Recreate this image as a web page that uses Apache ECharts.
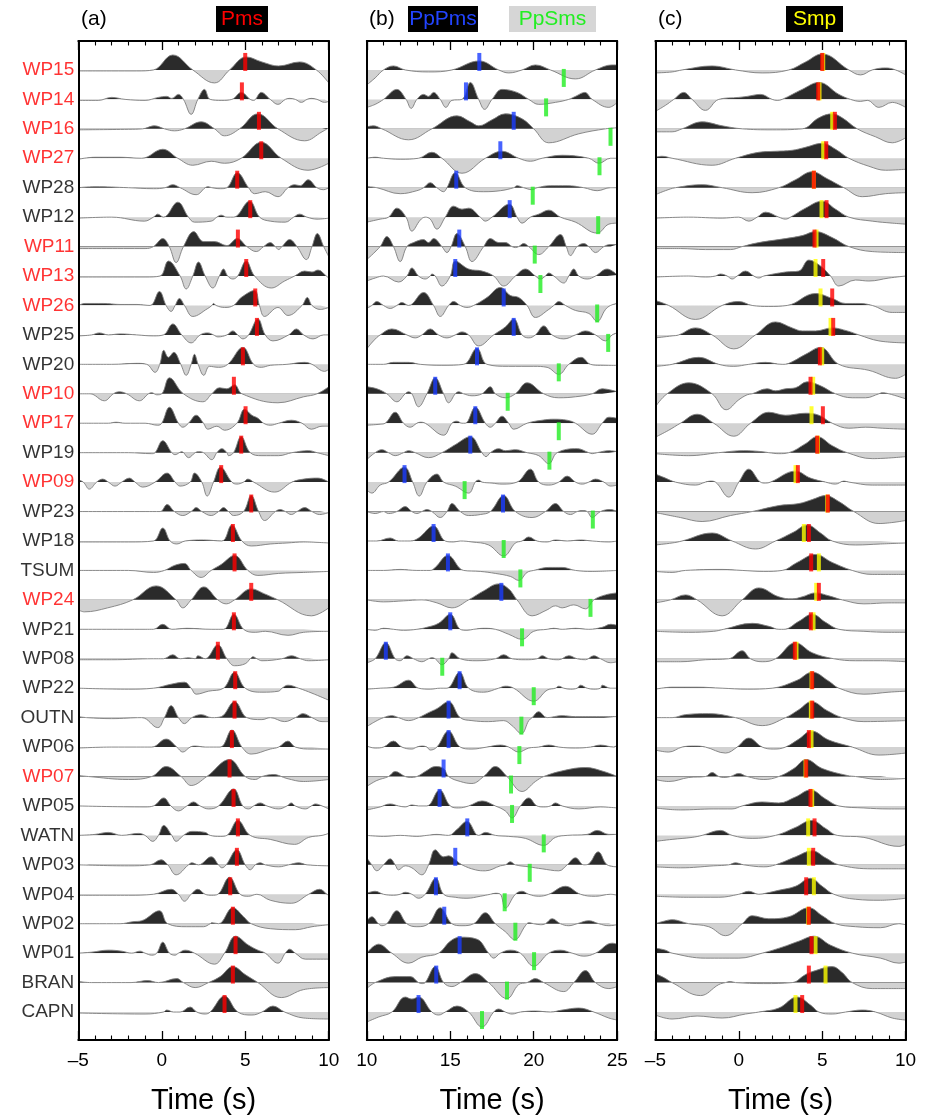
<!DOCTYPE html>
<html>
<head>
<meta charset="utf-8">
<script src="https://cdn.jsdelivr.net/npm/echarts@6/dist/echarts.min.js"></script>
<style>
  html, body { margin: 0; padding: 0; background: #fff; }
  #main { width: 925px; height: 1120px; }
</style>
</head>
<body>
<div id="main"></div>
<script>
// station order, top to bottom
var stations = ['WP15', 'WP14', 'WP16', 'WP27', 'WP28', 'WP12', 'WP11', 'WP13', 'WP26', 'WP25', 'WP20',
  'WP10', 'WP17', 'WP19', 'WP09', 'WP23', 'WP18', 'TSUM', 'WP24', 'WP21', 'WP08', 'WP22', 'OUTN',
  'WP06', 'WP07', 'WP05', 'WATN', 'WP03', 'WP04', 'WP02', 'WP01', 'BRAN', 'CAPN'];
var redStations = ['WP15', 'WP14', 'WP16', 'WP27', 'WP11', 'WP13', 'WP26', 'WP10', 'WP17', 'WP09', 'WP24', 'WP07'];

// picked times (s)
var pmsTime = [5.0, 4.8, 5.82, 5.96, 4.52, 5.3, 4.56, 5.06, 5.6, 5.7, 4.86, 4.32, 5.02, 4.76, 3.56, 5.36, 4.26,
  4.36, 5.36, 4.32, 3.36, 4.4, 4.36, 4.2, 4.06, 4.3, 4.56, 4.5, 4.1, 4.26, 4.42, 4.26, 3.76];
var ppPmsTime = [16.74, 15.94, 18.8, 18.0, 15.36, 18.56, 15.54, 15.3, 18.2, 18.8, 16.6, 14.1, 16.5, 16.2, 12.26,
  18.16, 14.0, 14.86, 18.06, 15.0, 11.14, 15.56, 14.9, 14.9, 14.6, 14.36, 16.02, 15.3, 14.14, 14.64, 15.56, 14.16, 13.1];
var ppSmsTime = [21.8, 20.74, 24.6, 23.94, 19.94, 23.86, 20.06, 20.4, 23.8, 24.46, 21.5, 18.44, 21.5, 20.94, 15.86,
  23.54, 18.2, 19.2, 23.4, 19.3, 14.52, 20.0, 19.26, 19.14, 18.64, 18.7, 20.6, 19.76, 18.26, 18.9, 20.02, 18.4, 16.9];
var smpRedTime = [5.0, 4.76, 5.76, 5.24, 4.5, 5.26, 4.54, 5.06, 5.6, 5.66, 4.86, 4.3, 5.04, 4.7, 3.54, 5.34, 4.2,
  4.34, 4.8, 4.32, 3.36, 4.4, 4.4, 4.2, 4.04, 4.3, 4.54, 4.46, 4.04, 4.2, 4.36, 4.2, 3.8];
var smpYellowTime = [5.06, 4.84, 5.6, 5.06, 4.5, 4.96, 4.66, 4.6, 4.9, 5.5, 5.0, 4.46, 4.36, 4.74, 3.4, 5.3, 3.9,
  4.8, 4.64, 4.48, 3.46, 4.36, 4.32, 4.36, 4.0, 4.4, 4.16, 4.2, 4.5, 4.16, 4.6, 5.2, 3.4];

// waveforms: [time, amplitude] knots, one list per station
var tracesA = [
  [[-5,-1],[-3,-1],[-1.5,-1],[-0.5,0],[0.66,15],[1.86,0],[3.16,-13],[4.06,0],[5.06,13],[6.0,8],[7,4],[8.26,8],[9.26,0],[10,-13]],
  [[-5,-1],[-3.8,-1],[-3,2],[-2.2,0],[-1,-1],[-0.2,2],[0.3,3],[0.6,1],[1,5],[1.3,0],[1.76,-15],[2.16,0],[2.56,10],[2.9,0],[3.6,-1],[4.2,0],[4.76,7],[5.3,0],[5.5,-1],[5.96,7],[6.5,0],[6.96,-5],[7.4,0],[7.66,1],[8.0,0],[8.36,-3],[8.7,0],[8.96,1],[9.3,0],[9.76,-3],[10,-2]],
  [[-5,-1],[-2,-0.5],[-1.14,0],[-0.44,3],[0.16,0],[0.76,-2],[1.36,0],[2.36,7],[3.16,0],[3.76,-7],[4.66,0],[5.76,15],[6.96,0],[8.56,-12],[9.6,-3],[10,1]],
  [[-5,-1],[-4,1],[-2.5,1],[-1.2,0],[0.06,9],[0.96,0],[1.86,-7],[2.96,-3],[3.76,-5],[4.76,0],[5.96,16],[7.16,0],[8.76,-12],[10,-5]],
  [[-5,0],[-4,1],[-2,0],[-0.5,-1],[0.2,0],[0.66,3],[1.1,0],[2.06,-7],[2.6,0],[2.76,1],[3.0,0],[3.5,-1],[3.9,0],[4.52,15],[5.2,0],[5.56,-6],[6.2,-4],[6.96,-9],[7.56,0],[7.96,3],[8.3,2],[8.76,8],[9.3,0],[9.7,-2],[10,0]],
  [[-5,-1],[-3,0],[-1.04,-4],[-0.5,0],[-0.24,3],[0.1,0],[0.96,15],[1.6,0],[1.96,-5],[2.96,-4],[3.3,0],[3.56,2],[3.9,0],[4.3,0],[5.26,16],[5.86,0],[6.5,-4],[7.4,-5],[7.9,0],[8.26,3],[8.7,0],[9.3,-2],[10,-1]],
  [[-5,-2],[-1,-2],[-0.5,0],[0.06,8],[0.45,0],[0.86,-16],[1.3,0],[1.92,15],[2.5,5],[3.16,5],[3.9,1],[4.52,8],[5.1,0],[5.66,-5],[6.1,0],[6.5,4],[6.8,0],[7.0,-3],[7.2,0],[7.66,7],[8.1,0],[8.66,-13],[9.0,0],[9.32,13],[9.7,0],[10,-10]],
  [[-5,-1],[-1,-1],[-0.1,0],[0.4,15],[1.1,0],[1.46,-13],[1.86,0],[2.2,14],[2.6,0],[3.06,-12],[3.45,0],[3.7,7],[3.95,0],[4.26,-3],[4.55,0],[5.06,15],[5.56,0],[6.56,-12],[7.36,-5],[7.96,0],[8.56,5],[9.0,4],[9.36,6],[9.86,0],[10,-2]],
  [[-5,0],[-4.6,2],[-3.5,2],[-2.5,1],[-1.5,1],[-0.7,0],[-0.14,14],[0.26,0],[0.56,-6],[0.8,0],[1.06,7],[1.36,0],[1.86,-11],[2.76,-3],[3.0,0],[3.1,2],[3.25,0],[3.76,-2],[4.3,0],[4.76,8],[5.56,15],[5.85,0],[6.16,-11],[6.96,-2],[7.56,-10],[8.4,0],[8.72,8],[9.0,0],[9.5,-4],[10,-2]],
  [[-5,-1],[-4.2,0],[-3.74,2],[-3.2,0],[-2.5,1],[-1.5,0],[-0.5,-1],[0.1,0],[0.66,11],[1.2,0],[1.76,-8],[2.3,0],[2.76,2],[3.1,0],[3.36,-2],[3.9,0],[4.26,4],[4.55,0],[4.86,-4],[5.2,0],[5.76,16],[6.2,0],[6.66,-6],[7.6,0],[8.06,6],[8.5,0],[9.06,-4],[9.7,0],[10,0]],
  [[-5,0],[-3,0],[-1.5,1],[-0.9,0],[-0.4,-8],[-0.12,0],[0.12,14],[0.4,7],[0.72,12],[1.14,0],[1.46,-11],[1.76,0],[1.96,10],[2.18,0],[2.52,-11],[2.86,-2],[3.4,-3],[3.95,0],[4.86,17],[5.5,0],[5.96,-3],[6.5,-1],[7.5,0],[8.56,2],[9.0,0],[9.76,-7],[10,-5]],
  [[-5,0],[-4.3,0],[-3.44,-7],[-2.9,0],[-2.54,2],[-2.1,0],[-1.34,-7],[-0.8,0],[-0.6,1],[-0.3,-1],[0,0],[0.46,16],[1.3,0],[2.46,-8],[3.0,0],[3.46,6],[3.9,5],[4.36,9],[4.8,0],[6.96,-9],[8.5,-3],[9.3,0],[10,7]],
  [[-5,0],[-3.2,0],[-2.74,1],[-2.2,0],[-1,0],[-0.24,-2],[0,0],[0.46,16],[1.0,0],[1.26,-4],[1.6,0],[2.06,8],[2.5,0],[2.76,-6],[3.3,-3],[3.76,-7],[4.5,0],[4.96,14],[5.4,8],[5.76,5],[6.1,0],[6.5,-2],[7.0,0],[7.76,3],[8.4,0],[8.96,-6],[9.6,-3],[10,-3]],
  [[-5,0],[-2,0],[-0.6,-1],[-0.4,0],[0.06,12],[0.6,0],[0.8,-2],[1.2,1],[1.6,-5],[2.0,0],[2.2,1],[2.5,0],[3.0,-7],[3.3,0],[3.6,4],[3.9,0],[4.0,-3],[4.3,0],[4.76,16],[5.3,0],[6.0,-3],[7.0,-3],[7.8,0],[8.8,2],[9.3,0],[10,-3]],
  [[-5,2],[-4.7,0],[-4.34,-7],[-3.9,0],[-3.54,3],[-3.2,0],[-2.8,-4],[-2.4,0],[-1.94,4],[-1.6,0],[-1.14,-5],[-0.4,0],[0.32,9],[0.8,0],[1.1,-4],[1.7,0],[1.96,9],[2.4,0],[2.72,-14],[3.1,0],[3.52,15],[4.2,0],[4.5,-2],[4.9,0],[5.16,3],[5.5,0],[6.76,-10],[7.8,0],[8.5,3],[9.36,4],[10,0]],
  [[-5,0],[-1,0],[-0.1,0],[0.32,7],[0.76,0],[1.26,-4],[1.76,0],[2.06,4],[2.4,0],[2.96,-4],[3.4,0],[3.7,4],[4.0,0],[4.3,-4],[4.9,0],[5.36,16],[5.8,0],[6.16,-9],[6.8,0],[7.1,2],[7.4,0],[7.76,-3],[8.1,0],[8.56,4],[9.0,0],[9.46,-3],[10,-1]],
  [[-5,-1],[-2,-1],[-0.5,0],[0.06,13],[0.5,0],[0.9,-3],[1.4,0],[2.5,1],[3.6,0],[4.2,16],[4.8,0],[5.36,-5],[6.5,-3],[7.5,-2],[8.5,-1],[10,-2]],
  [[-5,0],[-2,0],[-0.5,-2],[0.16,0],[0.76,5],[1.36,7],[1.76,0],[2.36,-7],[2.96,0],[3.56,6],[4.36,15],[5.16,0],[5.76,-5],[7,-3],[8.5,-2],[10,-1]],
  [[-5,-10],[-4.64,-12],[-3.24,-8],[-1.74,0],[-0.34,14],[0.86,0],[1.26,-8],[1.76,0],[2.52,13],[3.36,0],[3.86,-4],[4.36,0],[5.36,11],[6.16,6],[6.96,0],[8.96,-16],[10,-8]],
  [[-5,0],[-1,0],[-0.5,0],[0.06,5],[0.6,0],[1.5,1],[3.0,0],[3.7,0],[4.32,15],[4.9,0],[5.6,-3],[6.2,-2],[7.56,-6],[8.5,-3],[10,-2]],
  [[-5,-1],[-3,-1],[-0.5,0],[0.1,0],[0.66,4],[1.1,0],[1.6,1],[2.0,0],[2.16,3],[2.6,0],[3.36,14],[3.9,0],[4.36,-7],[5.0,-5],[5.3,0],[5.46,2],[5.7,0],[6.0,-2],[7.2,0],[7.76,3],[8.3,0],[8.8,-2],[10,-1]],
  [[-5,0],[-2,-1],[-0.5,0],[0.56,4],[1.36,6],[1.76,0],[2.06,-6],[2.8,-3],[3.7,0],[4.36,16],[5.0,0],[6.0,-4],[7.0,-3],[7.2,0],[7.56,3],[8.2,0],[9.0,-5],[10,-12]],
  [[-5,1],[-4.5,0],[-3,-1],[-1.2,0],[-0.24,-10],[0.16,0],[0.56,12],[1.0,0],[1.36,-6],[1.8,0],[2.36,3],[3.0,0],[3.56,1],[4.36,16],[5.1,0],[6.0,-2],[6.5,0],[7.36,-4],[8.0,0],[8.46,4],[9.0,0],[9.6,-4],[10,-4]],
  [[-5,-1],[-3,0],[-1.5,0],[-0.6,0],[0.26,8],[0.9,0],[1.26,-5],[1.7,0],[2.0,1],[2.6,0],[3.5,0],[4.2,17],[4.8,0],[5.36,-7],[6.5,-2],[7.0,0],[7.56,6],[8.0,0],[9,-2],[10,-2]],
  [[-5,1],[-4.4,0],[-2,-3],[-0.6,0],[0.26,10],[1.16,0],[1.76,-9],[2.7,0],[4.06,17],[5.0,0],[5.6,-3],[6.0,0],[6.7,2],[7.5,-2],[8.5,-5],[10,-3]],
  [[-5,0],[-1,-1],[-0.5,0],[0.12,8],[0.55,0],[1.0,-5],[1.5,0],[1.9,4],[2.3,0],[2.8,-3],[3.4,0],[4.3,17],[4.85,0],[5.2,-3],[5.5,0],[5.9,3],[6.3,0],[7.0,-3],[7.5,0],[7.76,3],[8.0,0],[8.6,-3],[8.96,0],[9.2,2],[9.6,0],[10,-3]],
  [[-5,0],[-4,1],[-3.2,3],[-2.4,0],[-1.4,2],[-1.0,0],[-0.54,-6],[-0.2,0],[0.12,10],[0.6,0],[0.86,-6],[1.3,0],[1.8,4],[2.6,3],[2.9,0],[3.5,-1],[3.9,0],[4.56,15],[5.3,0],[6.5,-4],[7.96,-9],[8.8,-2],[9.6,0],[10,2]],
  [[-5,0],[-2,-1],[-0.7,0],[-0.04,5],[0.36,0],[0.86,-10],[1.6,0],[1.8,2],[2.2,0],[2.96,8],[3.4,0],[3.6,-3],[3.86,0],[4.5,15],[5.0,0],[5.3,-5],[5.6,0],[5.9,2],[6.2,0],[7.0,-2],[7.6,0],[8.2,2],[8.7,0],[10,-1]],
  [[-5,-1],[-2,-1],[-0.5,0],[0.56,5],[1.0,0],[1.36,-7],[1.76,0],[2.16,5],[2.6,0],[3.0,-1],[3.36,0],[4.06,17],[4.7,0],[5.2,-2],[5.7,0],[6.5,-6],[7.76,-9],[8.8,0],[9.46,5],[9.9,0],[10,-1]],
  [[-5,0],[-2.5,0],[-1.74,2],[-1.2,3],[-0.14,13],[0.36,0],[1.5,-3],[2.5,-3],[2.9,0],[3.0,1],[3.4,0],[4.26,16],[4.9,7],[5.36,0],[6.5,-5],[8,-6],[9,-3],[10,-1]],
  [[-5,0],[-4.2,1],[-3.2,3],[-2.4,2],[-1.8,0],[-1.3,2],[-1.0,0],[-0.6,-2],[-0.3,0],[0.06,11],[0.46,0],[0.8,-2],[1.0,0],[1.4,3],[1.96,0],[3.16,-11],[3.76,0],[4.42,17],[5.2,8],[5.76,3],[6.2,0],[6.96,-10],[7.4,0],[7.66,4],[8.0,0],[8.6,-6],[10,-6]],
  [[-5,1],[-4.2,0],[-3,0],[-1.84,0],[-0.84,2],[-0.2,0],[0.9,4],[1.3,0],[2.0,-5],[2.8,0],[3.5,6],[4.26,16],[5.0,8],[5.76,0],[7.16,-15],[8.5,-7],[10,-5]],
  [[-5,-1],[-1,-2],[0.1,0],[0.3,2],[0.7,0],[1.1,0],[1.7,5],[2.1,0],[2.6,-2],[2.9,0],[3.76,16],[4.56,0],[5.4,-3],[6.0,0],[6.66,6],[7.36,0],[8.5,-6],[10,-7]]
];

var tracesB = [
  [[10,-15],[10.5,-8],[11,0],[11.6,4],[12.3,0],[13.7,-2],[15.1,0],[16.74,9],[17.9,0],[18.5,-3],[19.3,0],[20.1,5],[21,0],[22.5,-9],[23.7,0],[24.7,5],[25,5]],
  [[10,-8],[10.5,-5],[11.0,0],[11.8,10],[12.35,0],[12.66,-9],[13.0,0],[13.4,5],[13.7,3],[14.0,7],[14.4,0],[14.74,-8],[15.1,-1],[15.7,0],[16.2,17],[16.7,0],[17.06,-10],[17.5,0],[18.1,10],[19.0,7],[19.7,0],[20.3,-5],[21.3,-3],[22.1,0],[22.5,3],[23.06,7],[23.5,0],[24.5,-8],[25,-3]],
  [[10,2],[10.4,3],[10.9,0],[12.5,-11],[13.9,0],[15.4,13],[16.2,7],[16.7,3],[17.5,9],[18.3,15],[19.3,10],[20,0],[20.9,-14],[22.7,-5],[24.3,0],[25,1]],
  [[10,0],[10.5,1],[11,0],[12,-1],[13.1,0],[13.9,6],[14.5,0],[15.7,-15],[17.1,0],[18.1,7],[19.1,0],[19.8,-3],[20.5,0],[21.7,3],[23.3,0],[23.9,-5],[24.6,0],[25,0]],
  [[10,1],[10.6,0],[12,-6],[13.0,-3],[13.4,0],[13.8,5],[14.2,0],[14.6,-4],[14.8,0],[15.3,15],[15.9,0],[17,-4],[18,-3],[18.8,0],[19.0,2],[19.4,0],[19.9,-2],[20.2,0],[21,2],[22,2],[23,0],[23.8,-3],[24.6,0],[25,0]],
  [[10,-5],[10.8,-2],[11.3,0],[11.8,9],[12.35,0],[12.7,-14],[13.2,-3],[13.5,0],[13.8,-2],[14.2,-12],[14.7,0],[15.2,11],[15.7,8],[16.1,9],[16.8,0],[17.1,-4],[17.5,0],[18.54,13],[19.0,0],[19.3,-6],[19.8,0],[20.3,3],[20.9,7],[21.6,0],[22.5,-5],[23.8,-16],[24.5,-7],[25,-6]],
  [[10,-13],[10.8,0],[11.2,10],[11.6,0],[12.0,-15],[12.4,0],[12.8,4],[13.4,7],[13.7,4],[14.0,8],[14.5,0],[14.8,-6],[15.05,0],[15.4,13],[15.9,0],[16.3,-15],[17.0,0],[17.4,8],[17.9,4],[18.3,4],[18.7,0],[18.9,-1],[19.1,0],[19.4,3],[19.7,0],[20.3,-8],[20.9,0],[21.6,12],[21.95,0],[22.2,-9],[22.6,0],[23.0,3],[23.3,0],[23.7,-6],[24.2,0],[24.6,2],[25,2]],
  [[10,-5],[10.5,-2],[11.0,0],[11.9,-6],[12.4,0],[12.7,8],[13.1,0],[13.5,-3],[13.8,0],[13.9,2],[14.1,0],[14.5,-10],[15.0,0],[15.3,15],[16.1,7],[16.9,5],[17.6,0],[18.2,-10],[18.9,0],[19.5,7],[20.1,0],[20.4,-3],[20.7,0],[20.9,3],[21.2,0],[21.8,-7],[22.1,0],[22.4,7],[22.7,0],[23.2,-3],[23.7,0],[24.4,7],[25,1]],
  [[10,-3],[10.3,0],[10.6,4],[11.0,0],[11.4,-3],[11.8,0],[12.1,3],[12.5,0],[13.4,13],[14.0,0],[14.4,-11],[14.9,0],[15.2,4],[15.6,0],[16.0,-2],[16.4,0],[17.2,8],[18.0,18],[18.6,10],[19.1,8],[19.6,0],[20.1,-12],[20.9,-4],[21.2,0],[21.5,4],[21.9,0],[22.5,-5],[23.3,-8],[23.8,-16],[24.3,-4],[24.6,0],[25,2]],
  [[10,-14],[10.4,-6],[10.8,0],[11.5,6],[12.4,0],[12.9,-3],[13.3,0],[13.8,6],[14.3,0],[14.8,-3],[15.3,0],[15.7,3],[16.1,0],[16.7,-11],[17.6,0],[18.3,8],[18.8,16],[19.3,0],[19.7,-3],[20.1,0],[20.6,9],[21.1,0],[21.8,-4],[22.5,0],[23.1,4],[23.7,0],[24.3,-6],[24.7,0],[25,2]],
  [[10,0],[11,0],[11.6,2],[12.5,2],[13.2,0],[14.5,-1],[15.8,0],[16.6,16],[17.2,0],[18.5,-2],[20,-2],[20.8,-3],[21.5,-10],[22.1,0],[22.84,7],[23.4,0],[24.0,-1],[25,-1]],
  [[10,7],[10.6,5],[11.2,0],[11.8,-8],[12.3,0],[12.5,2],[12.7,0],[13.1,-13],[13.6,0],[14.1,16],[14.6,0],[14.9,-9],[15.3,0],[15.5,2],[15.8,0],[16.3,-2],[16.9,0],[17.4,7],[17.7,0],[18.3,-4],[18.9,0],[19.6,11],[20.6,0],[21.5,-4],[22.5,-3],[23.5,0],[24.1,5],[25,2]],
  [[10,-2],[10.8,-1],[11.1,0],[11.7,11],[12.2,0],[12.6,-4],[13.0,0],[13.2,1],[13.5,0],[14.6,-12],[15.1,0],[15.4,2],[15.7,0],[15.9,0],[16.5,16],[17.1,0],[17.4,-4],[17.7,0],[18.1,7],[18.5,0],[18.8,-6],[19.6,0],[20.5,3],[21.2,4],[22.0,3],[22.5,0],[23.5,-11],[24.1,0],[24.5,6],[25,5]],
  [[10,-7],[10.5,0],[10.9,3],[11.3,0],[11.7,-3],[12.2,0],[12.5,2],[12.9,0],[13.7,-5],[14.5,0],[15.3,8],[16.2,16],[16.9,0],[17.14,-4],[17.4,0],[17.9,4],[18.3,2],[18.9,3],[19.6,0],[20.3,-3],[20.9,-11],[21.4,0],[22.6,4],[23.3,0],[23.5,-1],[23.8,0],[24.5,2],[25,1]],
  [[10,-8],[10.3,-11],[10.8,-3],[11.3,0],[12.26,15],[12.75,0],[13.14,-14],[13.6,0],[14.2,8],[14.6,0],[15.3,-4],[16.1,-11],[16.5,0],[16.7,2],[16.9,0],[17.5,-1],[18.1,-2],[19.0,0],[19.8,13],[20.3,0],[20.9,-3],[21.5,0],[22.0,6],[22.5,0],[22.9,-2],[23.3,0],[23.7,3],[24.2,0],[24.6,-4],[25,-3]],
  [[10,0],[10.5,-2],[11.0,0],[11.3,-2],[11.8,0],[12.3,5],[12.7,0],[13.0,-2],[13.3,0],[13.6,2],[13.9,0],[14.4,-6],[14.8,0],[15.1,8],[15.6,0],[16.1,-4],[16.8,-3],[17.4,0],[18.2,16],[18.9,0],[19.9,-6],[20.7,0],[21.3,8],[21.8,0],[22.2,-3],[22.6,0],[22.9,1],[23.2,0],[23.5,-6],[24.0,0],[24.6,2],[25,0]],
  [[10,0],[10.6,0],[11.4,3],[11.9,0],[12.6,0],[13.1,3],[14.0,15],[14.7,0],[15.2,-1],[15.6,0],[16.3,-1],[17.3,-4],[18.2,-15],[18.9,-2],[19.3,0],[19.7,4],[20.2,0],[20.8,-1],[21.3,1],[22,0],[22.8,1],[23.5,0],[24.5,-1],[25,0]],
  [[10,0],[11,0],[12,1],[13,0],[13.8,0],[14.1,3],[14.86,15],[15.8,0],[16.8,-1],[17.7,-3],[18.6,-6],[19.1,-10],[19.6,-2],[20.0,0],[20.9,3],[21.7,3],[22.5,0],[23.5,-1],[25,0]],
  [[10,0],[11,-2],[12.2,-1],[13.3,0],[14.2,-3],[15.1,-8],[16.1,0],[17.0,9],[17.9,16],[18.5,11],[19.0,0],[19.9,-16],[20.8,-10],[21.3,-6],[21.7,-8],[22.4,-5],[23.1,-9],[23.6,0],[24.3,5],[25,7]],
  [[10,0],[10.5,-1],[11,1],[11.6,0],[12.2,-1],[13,0],[13.6,2],[14.3,6],[15.0,15],[15.6,0],[16.0,-1],[16.4,0],[17,1],[17.7,0],[18.5,-5],[19.3,-10],[20.0,-2],[20.8,0],[21.2,1],[21.7,0],[22.5,1],[23.3,0],[24.1,2],[24.6,5],[25,4]],
  [[10,-4],[10.5,0],[11.14,16],[11.7,0],[12.0,-2],[12.4,3],[12.8,0],[13.3,-3],[13.7,0],[13.9,1],[14.1,0],[14.5,-6],[14.9,0],[15.1,6],[15.6,0],[16.6,-2],[17.7,0],[18.2,4],[18.7,0],[19.5,-1],[20.2,0],[20.5,3],[20.9,0],[21.5,-1],[22.1,3],[22.6,0],[23.1,-1],[23.6,3],[24.0,0],[24.6,-4],[25,-3]],
  [[10,-1],[10.8,0],[11.6,1],[12.5,8],[13.1,0],[13.8,-1],[14.4,0],[14.8,0],[15.56,16],[16.1,0],[17,-4],[17.9,0],[18.3,2],[18.8,0],[20,-13],[20.8,-2],[21.3,0],[21.5,2],[21.8,0],[22.2,-1],[22.6,0],[22.8,3],[23.2,0],[23.6,-1],[24.0,0],[24.1,3],[24.6,0],[25,0]],
  [[10,-9],[10.5,-4],[11.0,0],[11.5,2],[11.9,0],[12.5,-3],[13.1,0],[13.7,5],[14.2,9],[14.9,16],[15.6,0],[16.3,-3],[17.3,-4],[18.2,-3],[18.7,-8],[19.26,-16],[19.7,-3],[19.9,0],[20.3,6],[20.8,0],[21.7,2],[22.5,1],[23.3,1],[24.2,1],[25,1]],
  [[10,1],[10.5,-1],[11.0,0],[11.6,6],[12.1,0],[12.7,-2],[13.0,0],[13.3,1],[13.6,0],[13.8,-3],[14.2,0],[14.9,16],[15.6,0],[16.3,-2],[17.2,0],[18.0,2],[18.5,0],[19.1,-5],[19.7,-1],[20.3,0],[20.9,2],[21.5,0],[22.5,-1],[23.4,0],[24.0,2],[24.8,0],[25,2]],
  [[10,-10],[10.6,-4],[11.3,0],[11.7,5],[12.3,0],[12.6,-1],[13.0,0],[13.6,6],[14.1,10],[14.6,8],[14.9,0],[15.6,-5],[16.3,-7],[17.0,0],[17.7,10],[18.4,0],[19.3,-15],[20.1,-5],[20.6,0],[21.8,6],[23.1,9],[24.2,5],[25,0]],
  [[10,-4],[10.8,-1],[11.4,2],[11.9,0],[12.3,-1],[12.7,1],[13.1,0],[13.6,0],[14.36,16],[15.0,0],[15.5,-2],[16.1,0],[16.9,5],[17.7,0],[18.3,-5],[18.7,-12],[19.2,0],[19.7,8],[20.2,0],[20.6,-1],[21.0,0],[21.3,3],[21.7,0],[22.7,-3],[24,-1],[25,-2]],
  [[10,0],[11,-1],[12,0],[13,-1],[13.6,0],[14.2,1],[14.9,0],[15.4,6],[16.0,14],[16.7,0],[17.1,3],[17.7,0],[18.5,-1],[19.5,-3],[20.6,-10],[21.3,-2],[22.0,0],[23.2,1],[23.8,5],[24.5,1],[25,1]],
  [[10,7],[10.3,0],[10.6,-6],[11.0,0],[11.4,6],[11.7,0],[11.9,-5],[12.3,-1],[12.7,-3],[13.3,-10],[13.7,0],[14.1,15],[14.6,8],[14.9,9],[15.3,5],[15.7,0],[16.5,-5],[17.1,-6],[18.0,-1],[18.3,0],[18.6,3],[18.9,0],[19.7,-2],[20.5,-4],[21.5,-6],[22.0,0],[22.5,7],[23.0,0],[23.3,1],[23.86,13],[24.4,0],[25,-2]],
  [[10,1],[10.5,3],[11,0],[11.6,-1],[12.0,0],[12.3,2],[12.7,0],[13.1,-4],[13.5,0],[14.14,16],[14.6,0],[15.3,-3],[16,-4],[16.8,-2],[17.4,0],[17.7,1],[18.0,0],[18.3,-14],[18.9,0],[19.3,3],[19.7,0],[20.3,-2],[20.9,0],[21.9,8],[22.8,0],[23.7,-2],[24.6,0],[25,-1]],
  [[10,3],[10.3,7],[10.7,0],[10.9,-2],[11.2,0],[11.8,13],[12.4,0],[13.0,-3],[13.7,0],[14.4,16],[15.1,0],[15.7,-2],[16.4,0],[17.1,11],[17.7,0],[18.3,-8],[18.86,-16],[19.5,-2],[19.7,1],[20.0,0],[20.4,-1],[20.7,0],[21.1,5],[21.6,0],[22.1,-2],[22.6,0],[23.3,3],[23.9,0],[24.5,-2],[25,-1]],
  [[10,0],[10.7,9],[11.5,0],[12.5,-10],[13.3,-4],[14.3,0],[15.0,12],[15.6,16],[16.6,14],[17.3,0],[17.6,-5],[18.0,0],[18.6,3],[19.2,0],[20.0,-13],[20.9,0],[21.6,3],[22.3,0],[23.0,-3],[23.7,0],[24.7,10],[25,9]],
  [[10,-6],[10.5,0],[11.7,6],[12.6,6],[13.1,0],[13.3,-1],[13.5,0],[14.1,16],[14.6,0],[15.1,-4],[15.6,0],[16.5,9],[17.3,0],[18.4,-16],[19.1,-2],[19.6,0],[20.1,4],[20.6,0],[21.8,-9],[22.4,0],[23.1,12],[23.7,0],[24.5,-6],[25,-4]],
  [[10,-10],[10.7,-5],[11.5,0],[12.3,15],[12.7,13],[13.1,15],[13.9,0],[14.3,-3],[14.7,0],[15.4,6],[16.1,0],[16.9,-15],[17.6,0],[17.9,3],[18.3,0],[18.7,-2],[19.2,0],[20.1,1],[21.0,0],[21.7,2],[22.7,4],[23.6,0],[24.5,-6],[25,-8]]
];

var tracesC = [
  [[-5,-3],[-4,-2],[-3.4,0],[-1.6,4],[-0.2,0],[1.4,-3],[3.0,0],[4.0,8],[5.0,16],[6.6,0],[7.3,-5],[8.0,0],[8.8,2],[9.4,0],[10,-5]],
  [[-5,-12],[-4.4,-6],[-3.9,0],[-3.3,7],[-2.8,0],[-2.0,-11],[-1.2,0],[0,2],[0.5,3],[1.3,5],[2.0,0],[2.3,-1],[2.6,0],[3.8,10],[4.8,17],[6.0,5],[6.7,0],[7.3,-2],[7.7,-1],[8.4,-8],[9.2,-3],[10,-8]],
  [[-5,-3],[-4,-3],[-3.4,0],[-2.2,7],[-1,3],[0.2,0],[2,-1],[3.8,0],[4.8,11],[5.6,15],[6.2,11],[7.1,0],[8.2,-8],[9.2,-14],[10,-9]],
  [[-5,1],[-4.6,2],[-4.0,0],[-1.6,-7],[-0.2,0],[1.2,6],[2.2,7],[3.2,8],[4.0,11],[5.0,15],[5.8,9],[6.6,0],[7.8,-8],[8.8,-12],[10,-11]],
  [[-5,-7],[-4.4,-3],[-3.8,0],[-2.2,3],[-1.0,0],[0.8,-5],[2.4,0],[3.4,8],[4.4,16],[5.3,9],[6.3,0],[7.4,-9],[8.8,-6],[10,-5]],
  [[-5,-1],[-3,0],[-1,-1],[0,0],[0.6,-4],[1.1,0],[1.6,5],[2.4,0],[2.8,-2],[3.1,0],[4.0,9],[5.0,16],[5.8,8],[6.6,0],[8.0,-4],[9.2,-6],[10,-7]],
  [[-5,-2],[-3.5,-2],[-2,-3],[-0.5,-3],[0.2,0],[1.2,4],[2.8,8],[3.8,11],[4.6,15],[5.6,9],[6.6,0],[8.0,-5],[10,-6]],
  [[-5,-1],[-3,0],[-2,-1],[-1.4,0],[-1.1,2],[-0.7,0],[-0.4,-3],[-0.1,0],[0.4,5],[0.9,0],[1.2,-2],[1.5,0],[2.8,4],[3.6,5],[4.2,16],[4.9,10],[5.5,0],[6.0,-10],[7.0,-4],[7.8,-5],[9,-2],[10,0]],
  [[-5,5],[-4.2,0],[-2.6,-14],[-1.0,0],[0,4],[0.8,0],[1.8,-1],[2.9,0],[4.6,12],[5.6,7],[6.4,2],[7.2,2],[8.0,0],[9.2,-7],[10,-7]],
  [[-5,-3],[-4,-1],[-3.6,0],[-2.6,7],[-1.6,0],[-0.3,-14],[1.0,0],[2.2,13],[3.2,7],[3.8,4],[4.6,4],[5.6,7],[6.5,4],[7.2,0],[8.4,-6],[10,-8]],
  [[-5,-2],[-4,0],[-2.4,7],[-1.2,0],[-0.3,-2],[0.6,0],[1.6,2],[2.6,0],[3.0,1],[4.0,10],[4.9,17],[6.0,0],[7.8,-6],[9.4,-14],[10,-10]],
  [[-5,-13],[-4.3,0],[-3.0,11],[-1.6,0],[-0.76,-16],[0,-6],[0.5,-1],[0.8,0],[1.7,5],[2.2,3],[2.8,5],[3.4,6],[4.1,12],[4.9,8],[5.8,0],[6.8,-4],[7.6,-4],[8.4,0],[8.6,1],[9.0,0],[10,-5]],
  [[-5,-14],[-4.2,-7],[-3.5,0],[-2.5,9],[-1.5,0],[-0.3,-13],[0.7,0],[1.8,11],[2.8,8],[4.0,10],[4.8,8],[5.6,0],[6.6,-5],[7.6,-4],[8.6,-5],[10,-6]],
  [[-5,-1],[-3,-3],[-1.2,0],[0.3,2],[1.4,1],[1.8,0],[2.4,-1],[3.0,0],[4.0,9],[4.7,16],[5.6,7],[6.5,0],[8.0,-6],[10,-4]],
  [[-5,8],[-4.4,4],[-3.8,0],[-2.6,-3],[-2.0,0],[-1.7,1],[-1.4,0],[-0.6,-15],[0,0],[0.6,13],[1.3,0],[1.6,-1],[1.9,0],[3.4,11],[4.3,4],[5.2,0],[5.8,-2],[6.3,1],[6.6,0],[8,-3],[10,-3]],
  [[-5,-1],[-3.5,-6],[-2.2,-10],[-0.5,-4],[0.8,0],[2.4,6],[3.6,8],[4.4,12],[5.2,16],[6.0,10],[6.9,0],[8.4,-12],[10,-9]],
  [[-5,-4],[-4,-2],[-3.4,0],[-1.6,8],[-0.4,0],[1.0,-8],[2.2,0],[3.3,9],[4.1,16],[4.9,8],[5.6,0],[7,-4],[8.5,-3],[10,-2]],
  [[-5,-1],[-4,-2],[-3.2,0],[-1,1],[0.2,0],[1.5,-1],[2.6,0],[3.5,8],[4.6,16],[5.6,8],[6.8,0],[8,-4],[10,-4]],
  [[-5,-3],[-4.1,0],[-3.2,5],[-2.5,0],[-1.0,-16],[0.2,0],[1.2,12],[2.4,3],[3.2,1],[3.8,3],[4.6,7],[5.4,4],[6.2,0],[7.5,-4],[9,-3],[10,-3]],
  [[-5,-2],[-3,-3],[-1.5,-2],[-0.9,0],[0.8,6],[1.8,3],[2.4,0],[2.7,0],[3.6,8],[4.4,15],[5.2,7],[6.0,0],[7.5,-2],[9,-3],[10,-3]],
  [[-5,-3],[-3.5,-3],[-2,-1],[-0.6,0],[0.2,8],[0.7,0],[1.4,-3],[2.2,0],[3.4,16],[4.4,6],[5.7,0],[7,-2],[8.5,-2],[10,-3]],
  [[-5,-1],[-4,1],[-2.5,1],[-1,0],[0.5,-1],[2.0,0],[3.5,8],[4.4,16],[5.4,7],[6.0,0],[7.5,-6],[9,-4],[10,-3]],
  [[-5,0],[-4,0],[-3.2,3],[-1.8,4],[-0.2,0],[1.4,-8],[2.8,0],[3.6,8],[4.36,16],[5.3,7],[6.2,0],[7.5,-4],[10,-3]],
  [[-5,-3],[-4.2,-5],[-3.4,0],[-2.7,1],[-2.0,0],[-0.8,-6],[-0.1,0],[0.6,9],[1.4,0],[2.1,-2],[2.8,0],[3.6,8],[4.36,16],[5.4,7],[6.8,0],[8.4,-8],[10,-6]],
  [[-5,-3],[-4.2,-5],[-3,-1],[-2.0,0],[-1.6,4],[-1.2,0],[-0.9,-1],[-0.5,0],[0,3],[0.5,0],[1.5,-3],[2.4,0],[3.3,8],[4.04,17],[5.0,8],[6.5,1],[7.0,0],[8.5,-3],[10,-2]],
  [[-5,-2],[-3.5,-4],[-1.5,-3],[-0.4,-3],[0.2,0],[1.4,4],[2.4,3],[3.4,9],[4.3,16],[5.2,7],[6.0,0],[7.5,-2],[9,-3],[10,-3]],
  [[-5,-6],[-4,-4],[-2.8,-2],[-2.2,0],[-1.1,5],[-0.4,0],[0.8,-3],[2.2,0],[3.4,8],[4.36,15],[5.2,7],[5.9,0],[7.5,-2],[9.6,-11],[10,-9]],
  [[-5,-2],[-3.5,-3],[-1.5,-1],[-0.6,0],[-0.2,2],[0.3,0],[1.5,-2],[2.2,0],[3.4,8],[4.4,14],[5.2,7],[6.0,0],[8,-4],[10,-4]],
  [[-5,-2],[-3,-3],[-1.2,-3],[0,0],[0.6,3],[1.2,0],[1.6,1],[2.4,4],[3.4,8],[4.3,16],[5.0,8],[5.7,0],[7.0,-5],[8.5,-6],[10,-4]],
  [[-5,0],[-4.6,2],[-4,4],[-3.0,0],[-1.8,-3],[-0.8,-12],[0.2,0],[0.8,8],[1.8,5],[3,7],[4.2,16],[5.0,8],[5.8,0],[7,-3],[8.5,-4],[9.6,0],[10,-1]],
  [[-5,5],[-4.4,3],[-4,0],[-2,-5],[0,-5],[1.4,0],[2.6,6],[3.6,12],[4.5,17],[5.5,8],[6.8,0],[8.5,-5],[9.6,-10],[10,-9]],
  [[-5,9],[-4.5,5],[-4.0,0],[-2.3,-13],[-1.2,-2],[-0.8,0],[-0.5,1],[-0.2,0],[1.5,-1],[3.2,0],[4.0,8],[4.6,12],[5.6,16],[6.2,10],[6.8,0],[8,-6],[10,-6]],
  [[-5,-3],[-4,-7],[-2.5,-4],[-1,-6],[0.4,-2],[1.2,0],[2.4,4],[3.5,15],[4.3,7],[4.8,0],[5.6,-2],[6.4,0],[7.4,2],[8.2,0],[9.2,-6],[10,-8]]
];

var chart = echarts.init(document.getElementById('main'));

var ROW_PX = 29.5;            // trace spacing in the picture
var N = stations.length;
var FONT = '"Liberation Sans", Arial, sans-serif';
var POS = '#2b2b2b', NEG = '#d2d2d2';

var panels = [
  { left: 78.3, width: 250.4, min: -5, max: 10, traces: tracesA },
  { left: 366.8, width: 250.4, min: 10, max: 25, traces: tracesB },
  { left: 655.4, width: 250.2, min: -5, max: 10, traces: tracesC }
];

function minusFmt(v) {
  return v < 0 ? '\u2013' + (-v) : String(v);
}

var grids = [], xAxes = [], yAxes = [], series = [], visualMaps = [];

panels.forEach(function (p, pi) {
  grids.push({ left: p.left, width: p.width, top: 41, height: 1001, show: false });
  var tick = { show: true, inside: true, length: 9, lineStyle: { color: '#000', width: 1.3 } };
  var minor = { show: true, splitNumber: 5, length: 4.5, lineStyle: { color: '#000', width: 1.1 } };
  xAxes.push({
    gridIndex: pi, type: 'value', min: p.min, max: p.max, interval: 5, position: 'bottom', z: 10,
    axisLine: { show: true, onZero: false, lineStyle: { color: '#000', width: 2 } },
    axisTick: tick, minorTick: minor, splitLine: { show: false },
    axisLabel: { fontSize: 19, color: '#000', margin: 11, fontFamily: FONT, formatter: minusFmt },
    name: 'Time (s)', nameLocation: 'middle', nameGap: 46,
    nameTextStyle: { fontSize: 29, color: '#000', fontFamily: FONT }
  });
  xAxes.push({
    gridIndex: pi, type: 'value', min: p.min, max: p.max, interval: 5, position: 'top', z: 10,
    axisLine: { show: true, onZero: false, lineStyle: { color: '#000', width: 2 } },
    axisTick: tick, minorTick: minor, splitLine: { show: false }, axisLabel: { show: false }
  });
  ['left', 'right'].forEach(function (side) {
    yAxes.push({
      gridIndex: pi, type: 'value', min: -0.95, max: 32.983, position: side, z: 10,
      axisLine: { show: true, onZero: false, lineStyle: { color: '#000', width: 2 } },
      axisTick: { show: false }, axisLabel: { show: false }, splitLine: { show: false }
    });
  });

  p.traces.forEach(function (tr, k) {
    var base = N - 1 - k;
    visualMaps.push({
      type: 'piecewise', show: false, seriesIndex: series.length, dimension: 1,
      pieces: [{ gte: base - 2, lt: base, color: NEG }, { gte: base, lte: base + 2, color: POS }],
      outOfRange: { color: NEG }
    });
    series.push({
      type: 'line', xAxisIndex: pi * 2, yAxisIndex: pi * 2, smooth: 0.4, symbol: 'none', silent: true,
      lineStyle: { color: '#7d7d7d', width: 0.9 },
      areaStyle: { origin: base, opacity: 1 },
      data: tr.map(function (d) { return [d[0], base + d[1] / ROW_PX]; }),
      z: 2
    });
  });
});

function marks(pi, times, color, dy) {
  return {
    type: 'scatter', xAxisIndex: pi * 2, yAxisIndex: pi * 2, symbol: 'rect', symbolSize: [4, 18],
    symbolOffset: [0, dy], itemStyle: { color: color }, z: 5, silent: true, clip: false,
    data: times.map(function (t, k) { return [t, N - 1 - k]; })
  };
}
series.push(marks(0, pmsTime, '#ff0000', -8));
series.push(marks(1, ppPmsTime, '#1a3cff', -8));
series.push(marks(1, ppSmsTime, '#22ee22', 8));
series.push(marks(2, smpYellowTime, '#ffff00', -8));
series.push(marks(2, smpRedTime, '#ff0000', -8));

// station names on the left of panel (a)
series.push({
  type: 'scatter', xAxisIndex: 0, yAxisIndex: 0, symbolSize: 0.1, silent: true, clip: false,
  itemStyle: { color: 'transparent' },
  label: { show: true, position: 'left', distance: 4, fontSize: 19, fontFamily: FONT,
    formatter: function (prm) { return stations[prm.dataIndex]; } },
  data: stations.map(function (s, k) {
    return { value: [-5, N - 1 - k], label: { color: redStations.indexOf(s) >= 0 ? '#ff0000' : '#000' } };
  })
});

function tagBox(x, w, text, bg, fg) {
  return [
    { type: 'rect', shape: { x: x, y: 6, width: w, height: 26 }, style: { fill: bg } },
    { type: 'text', x: x + w / 2, y: 19.5,
      style: { text: text, fill: fg, font: '21px ' + FONT, align: 'center', verticalAlign: 'middle' } }
  ];
}
var graphics = [
  { type: 'text', x: 81, y: 19.5, style: { text: '(a)', fill: '#000', font: '21px ' + FONT, verticalAlign: 'middle' } },
  { type: 'text', x: 369, y: 19.5, style: { text: '(b)', fill: '#000', font: '21px ' + FONT, verticalAlign: 'middle' } },
  { type: 'text', x: 658, y: 19.5, style: { text: '(c)', fill: '#000', font: '21px ' + FONT, verticalAlign: 'middle' } }
].concat(tagBox(216, 52, 'Pms', '#000', '#ff0000'))
 .concat(tagBox(408, 70, 'PpPms', '#000', '#2244ff'))
 .concat(tagBox(509, 87, 'PpSms', '#d6d6d6', '#22ee22'))
 .concat(tagBox(786, 57, 'Smp', '#000', '#ffff00'));

chart.setOption({
  animation: false,
  backgroundColor: '#fff',
  grid: grids,
  xAxis: xAxes,
  yAxis: yAxes,
  visualMap: visualMaps,
  series: series,
  graphic: graphics
});
</script>
</body>
</html>
